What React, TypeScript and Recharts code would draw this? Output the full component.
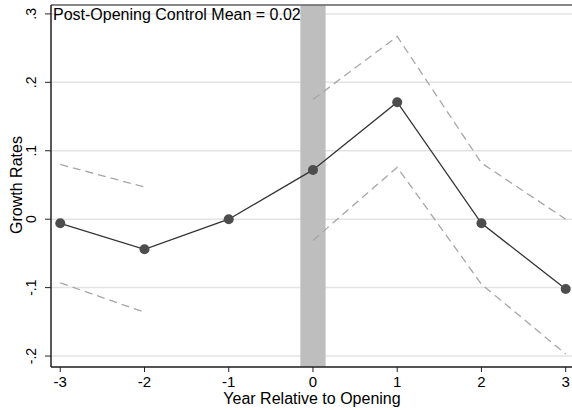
import React from "react";
import {
  CartesianGrid,
  ComposedChart,
  Line,
  ReferenceArea,
  ReferenceLine,
  XAxis,
  YAxis
} from "recharts";

const years = [-3, -2, -1, 0, 1, 2, 3];
const estimate = [-0.006, -0.044, 0.0, 0.072, 0.171, -0.006, -0.102];
const ciUpper = [0.08, 0.047, null, 0.175, 0.267, 0.082, 0.0];
const ciLower = [-0.093, -0.136, null, -0.031, 0.076, -0.095, -0.197];
const yTicks = [-0.2, -0.1, 0, 0.1, 0.2, 0.3];
const yTickLabels = ["-.2", "-.1", "0", ".1", ".2", ".3"];
const note = "Post-Opening Control Mean = 0.02";

const data = years.map((year, i) => ({
  year,
  estimate: estimate[i],
  upper: ciUpper[i],
  lower: ciLower[i]
}));

const font = "'Liberation Sans', Arial, sans-serif";
const Y_MIN = -0.216;
const Y_MAX = 0.313;

// rotated y tick labels, Stata style
function YTick(props: any) {
  const { y, payload } = props;
  const idx = yTicks.indexOf(payload.value);
  const label = idx >= 0 ? yTickLabels[idx] : String(payload.value);
  return (
    <text
      x={36.5}
      y={y}
      transform={`rotate(-90, 36.5, ${y})`}
      textAnchor="middle"
      fontSize={14}
      fontFamily={font}
      fill="#000"
    >
      {label}
    </text>
  );
}

function Dot(props: any) {
  const { cx, cy } = props;
  if (cx == null || cy == null) return null;
  return <circle cx={cx} cy={cy} r={5} fill="#4d4d4d" stroke="none" />;
}

export default function App() {
  return (
    <div style={{ position: "absolute", left: 0, top: 0, background: "#fff" }}>
      <ComposedChart
        width={572}
        height={410}
        data={data}
        margin={{ top: 5, right: 0, bottom: 0, left: 0 }}
      >
        <CartesianGrid horizontal vertical={false} stroke="#e3e3e3" strokeWidth={1.5} />
        <XAxis
          dataKey="year"
          type="number"
          domain={[-3.11, 3.075]}
          ticks={years}
          allowDataOverflow
          height={43}
          axisLine={{ stroke: "#222", strokeWidth: 1.5 }}
          tickLine={{ stroke: "#222" }}
          tickSize={5}
          tickMargin={4}
          tick={{ fontSize: 15, fontFamily: font, fill: "#000" }}
        />
        <YAxis
          type="number"
          domain={[Y_MIN, Y_MAX]}
          ticks={yTicks}
          allowDataOverflow
          width={51}
          axisLine={{ stroke: "#222", strokeWidth: 1.5 }}
          tickLine={{ stroke: "#222" }}
          tickSize={6}
          tick={<YTick />}
        />
        <ReferenceLine y={Y_MAX} stroke="#666" strokeWidth={1.5} />
        <ReferenceArea
          x1={-0.15}
          x2={0.15}
          y1={Y_MIN}
          y2={Y_MAX}
          fill="#bebebe"
          fillOpacity={1}
          stroke="none"
        />
        <Line
          dataKey="upper"
          stroke="#a6a6a6"
          strokeWidth={1.3}
          strokeDasharray="8 5"
          dot={false}
          activeDot={false}
          connectNulls={false}
          isAnimationActive={false}
          type="linear"
        />
        <Line
          dataKey="lower"
          stroke="#a6a6a6"
          strokeWidth={1.3}
          strokeDasharray="8 5"
          dot={false}
          activeDot={false}
          connectNulls={false}
          isAnimationActive={false}
          type="linear"
        />
        <Line
          dataKey="estimate"
          stroke="#333"
          strokeWidth={1.3}
          dot={<Dot />}
          activeDot={false}
          isAnimationActive={false}
          type="linear"
        />
        <text x={53} y={19.5} fontSize={16} fontFamily={font} fill="#000">
          {note}
        </text>
        <text
          x={312}
          y={403.5}
          textAnchor="middle"
          fontSize={16}
          fontFamily={font}
          fill="#000"
        >
          Year Relative to Opening
        </text>
        <text
          x={21.5}
          y={185}
          transform="rotate(-90, 21.5, 185)"
          textAnchor="middle"
          fontSize={16}
          fontFamily={font}
          fill="#000"
        >
          Growth Rates
        </text>
      </ComposedChart>
    </div>
  );
}
